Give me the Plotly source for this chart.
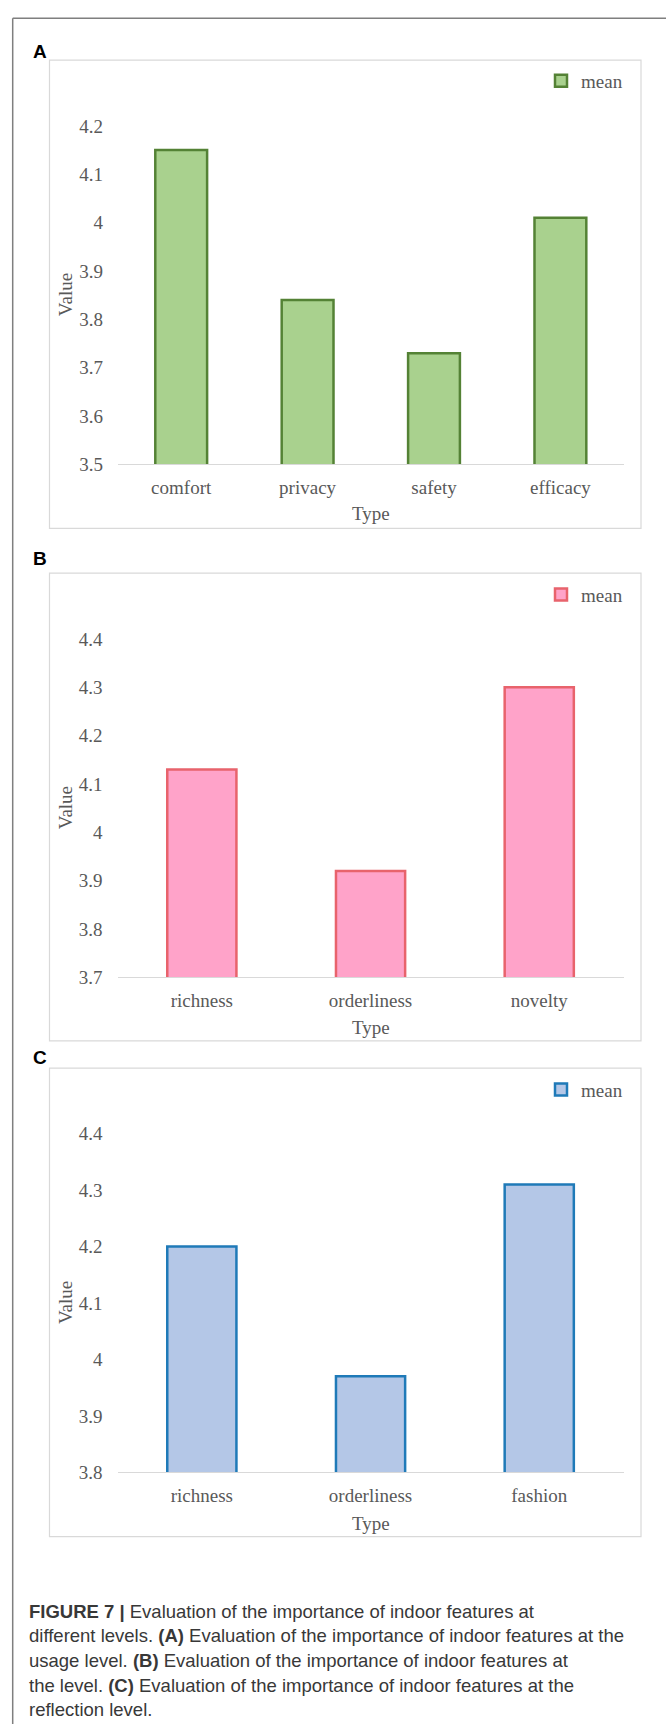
import plotly.graph_objects as go

# ---------------- data ----------------
cats_a = ["comfort", "privacy", "safety", "efficacy"]
vals_a = [4.15, 3.84, 3.73, 4.01]
ticks_a = [3.5, 3.6, 3.7, 3.8, 3.9, 4.0, 4.1, 4.2]
ticktext_a = ["3.5", "3.6", "3.7", "3.8", "3.9", "4", "4.1", "4.2"]

cats_b = ["richness", "orderliness", "novelty"]
vals_b = [4.13, 3.92, 4.30]
ticks_b = [3.7, 3.8, 3.9, 4.0, 4.1, 4.2, 4.3, 4.4]
ticktext_b = ["3.7", "3.8", "3.9", "4", "4.1", "4.2", "4.3", "4.4"]

cats_c = ["richness", "orderliness", "fashion"]
vals_c = [4.20, 3.97, 4.31]
ticks_c = [3.8, 3.9, 4.0, 4.1, 4.2, 4.3, 4.4]
ticktext_c = ["3.8", "3.9", "4", "4.1", "4.2", "4.3", "4.4"]

series_name = "mean"
x_title = "Type"
y_title = "Value"
panel_letters = ["A", "B", "C"]
caption_lines = [
    "<b>FIGURE 7 | </b>Evaluation of the importance of indoor features at",
    "different levels. <b>(A)</b> Evaluation of the importance of indoor features at the",
    "usage level. <b>(B)</b> Evaluation of the importance of indoor features at",
    "the level. <b>(C)</b> Evaluation of the importance of indoor features at the",
    "reflection level.",
]

# ---------------- layout helpers ----------------
W, H = 666, 1735


def px(x):
    return x / W


def py(y):
    return 1 - y / H


SERIF = "Liberation Serif, Times New Roman, serif"
SANS = "Liberation Sans, Arial, sans-serif"
TXT = "#595959"
GRID = "#D9D9D9"

panels = [
    dict(cats=cats_a, vals=vals_a, tv=ticks_a, tt=ticktext_a,
         fill="#A9D18E", line="#548235",
         plot_x=(118, 623.6), plot_y=(117.3, 460.0),
         box=(49.5, 50.7, 641, 524.7), letter_y=42, legend_y=71.7, type_y=510),
    dict(cats=cats_b, vals=vals_b, tv=ticks_b, tt=ticktext_b,
         fill="#FFA3C9", line="#E8636C",
         plot_x=(117.5, 623.6), plot_y=(636.7, 979.3),
         box=(49.5, 570, 641, 1043.5), letter_y=555, legend_y=591.7, type_y=1030),
    dict(cats=cats_c, vals=vals_c, tv=ticks_c, tt=ticktext_c,
         fill="#B4C7E7", line="#1F7AB8",
         plot_x=(117.5, 623.6), plot_y=(1137.5, 1480.2),
         box=(49.5, 1071, 641, 1545.3), letter_y=1060, legend_y=1093, type_y=1532),
]

fig = go.Figure()
shapes = []
annotations = []
layout = dict(
    width=W, height=H,
    margin=dict(l=0, r=0, t=0, b=0),
    paper_bgcolor="white", plot_bgcolor="rgba(0,0,0,0)",
    bargap=0.59,
    showlegend=True,
)

# outer frame (top and left lines)
shapes.append(dict(type="line", xref="paper", yref="paper",
                   x0=px(12.7), x1=px(666), y0=py(8.3), y1=py(8.3),
                   line=dict(color="#7F7F7F", width=1.5)))
shapes.append(dict(type="line", xref="paper", yref="paper",
                   x0=px(12.7), x1=px(12.7), y0=py(8.3), y1=py(1735),
                   line=dict(color="#7F7F7F", width=1.5)))

for i, p in enumerate(panels):
    n = "" if i == 0 else str(i + 1)
    xa = "x" + n
    ya = "y" + n
    leg = "legend" + n
    fig.add_trace(go.Bar(
        x=p["cats"], y=p["vals"], name=series_name,
        xaxis=xa, yaxis=ya, legend=leg,
        marker=dict(color=p["fill"], line=dict(color=p["line"], width=2.5)),
        hoverinfo="x+y",
    ))
    lo, hi = p["tv"][0], p["tv"][-1]
    layout["xaxis" + n] = dict(
        domain=[px(p["plot_x"][0]), px(p["plot_x"][1])],
        anchor=ya, showline=True, linecolor=GRID, linewidth=1,
        ticks="", showgrid=False, zeroline=False,
        tickfont=dict(family=SERIF, size=19, color=TXT),
        ticklabelstandoff=6,
    )
    layout["yaxis" + n] = dict(
        domain=[py(p["plot_y"][1]), py(p["plot_y"][0])],
        anchor=xa, range=[lo, hi], tickvals=p["tv"], ticktext=p["tt"],
        showline=False, showgrid=False, zeroline=False, ticks="",
        tickfont=dict(family=SERIF, size=19, color=TXT),
        ticklabelstandoff=14,
    )
    layout[leg] = dict(
        x=px(628), xanchor="right", y=py(p["legend_y"]), yanchor="middle",
        bgcolor="rgba(0,0,0,0)", borderwidth=0,
        font=dict(family=SERIF, size=19, color=TXT),
        itemwidth=30,
    )
    bx0, by0, bx1, by1 = p["box"]
    shapes.append(dict(type="rect", xref="paper", yref="paper",
                       x0=px(bx0), x1=px(bx1), y0=py(by1), y1=py(by0),
                       line=dict(color=GRID, width=1.2), layer="below"))
    annotations.append(dict(text="<b>%s</b>" % panel_letters[i], xref="paper", yref="paper",
                            x=px(31), y=py(p["letter_y"]), xanchor="left", yanchor="middle",
                            showarrow=False, font=dict(family=SANS, size=19, color="#000000")))
    annotations.append(dict(text=y_title, xref="paper", yref="paper", textangle=-90,
                            x=px(65), y=py((p["plot_y"][0] + p["plot_y"][1]) / 2),
                            xanchor="center", yanchor="middle", showarrow=False,
                            font=dict(family=SERIF, size=19, color=TXT)))
    annotations.append(dict(text=x_title, xref="paper", yref="paper",
                            x=px((p["plot_x"][0] + p["plot_x"][1]) / 2), y=py(p["type_y"]),
                            xanchor="center", yanchor="middle", showarrow=False,
                            font=dict(family=SERIF, size=19, color=TXT)))

caption_y = [1620.7, 1645.5, 1670.3, 1696.0, 1720.4]
for line, yy in zip(caption_lines, caption_y):
    annotations.append(dict(text=line, xref="paper", yref="paper",
                            x=px(26.6), y=py(yy), xanchor="left", yanchor="middle",
                            showarrow=False, align="left",
                            font=dict(family=SANS, size=18.5, color="#383838")))

layout["shapes"] = shapes
layout["annotations"] = annotations
fig.update_layout(**layout)
fig.write_html(
    "out.html",
    config={"displayModeBar": False},
    post_script="document.body.style.margin='0';document.body.style.padding='0';"
                "document.documentElement.style.margin='0';",
)
